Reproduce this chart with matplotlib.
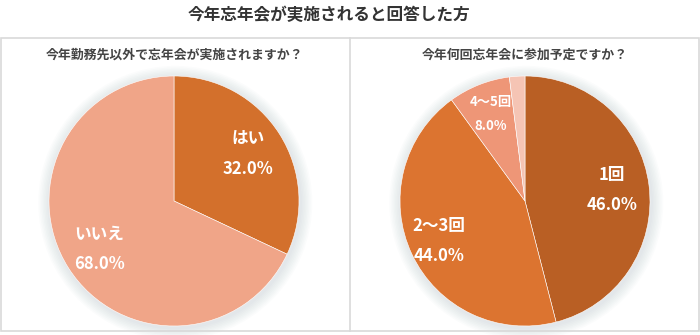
import numpy as np
import matplotlib
matplotlib.use("Agg")
import matplotlib.pyplot as plt
from matplotlib.patches import Rectangle, Circle

plt.rcParams['font.family'] = ['Noto Sans CJK JP', 'DejaVu Sans']

title = '今年忘年会が実施されると回答した方'

left_title = '今年勤務先以外で忘年会が実施されますか？'
left_labels = ['はい', 'いいえ']
left_values = [32.0, 68.0]
left_colors = ['#D3702C', '#F0A588']

right_title = '今年何回忘年会に参加予定ですか？'
right_labels = ['1回', '2～3回', '4～5回', '']
right_values = [46.0, 44.0, 8.0, 2.0]
right_colors = ['#B95F24', '#DC7430', '#EE9677', '#F5C4B4']
right_dist = [0.7, 0.76, 0.75, 0.8]
right_fs = [12, 12, 9.5, 9.5]

W, H = 700, 335
fig = plt.figure(figsize=(7, 3.35), dpi=100)
fig.patch.set_facecolor('white')

# frame around both panels
fig.patches.append(Rectangle((1 / W, (H - 331) / H), 698 / W, 293 / H,
                             transform=fig.transFigure, fill=False,
                             edgecolor='#D9D9D9', lw=1.2))
fig.lines.append(plt.Line2D([349.5 / W, 349.5 / W], [(H - 331) / H, (H - 38) / H],
                            transform=fig.transFigure, color='#D9D9D9', lw=1.2))

fig.text(329 / W, 1 - 15 / H, title, ha='center', va='center',
         fontsize=12, fontweight='bold', color='#333333')
fig.text(175 / W, 1 - 55 / H, left_title, ha='center', va='center',
         fontsize=9.3, fontweight='bold', color='#444444')
fig.text(525 / W, 1 - 55 / H, right_title, ha='center', va='center',
         fontsize=9.3, fontweight='bold', color='#444444')


def draw_pie(cx, cy, values, labels, colors, dists, sizes):
    r = 125
    lim = 1.12
    size = 2 * r * lim
    ax = fig.add_axes([(cx - r * lim) / W, (H - cy - r * lim) / H, size / W, size / H])
    ax.axis('off')
    # soft shadow
    for k in range(8):
        ax.add_patch(Circle((0.01, -0.015), 1.0 + 0.012 * (k + 1), color='#9AAAB8',
                            alpha=0.035, lw=0))
    wedges, _ = ax.pie(values, colors=colors, startangle=90, counterclock=False,
                       radius=1.0, wedgeprops=dict(edgecolor='white', linewidth=0.4))
    ax.set_xlim(-lim, lim)
    ax.set_ylim(-lim, lim)
    ax.set_aspect('equal')
    for w, lab, v, d, fs in zip(wedges, labels, values, dists, sizes):
        if not lab:
            continue
        ang = np.deg2rad((w.theta1 + w.theta2) / 2)
        x, y = d * np.cos(ang), d * np.sin(ang)
        off = 0.12 * fs / 12
        ax.text(x, y + off, lab, ha='center', va='center', color='white',
                fontsize=fs, fontweight='bold')
        ax.text(x, y - off, f'{v:.1f}%', ha='center', va='center', color='white',
                fontsize=fs, fontweight='bold')


draw_pie(174, 201, left_values, left_labels, left_colors, [0.7, 0.71], [12, 12])
draw_pie(525, 201, right_values, right_labels, right_colors, right_dist, right_fs)

fig.savefig('out.png', dpi=100, facecolor='white')
